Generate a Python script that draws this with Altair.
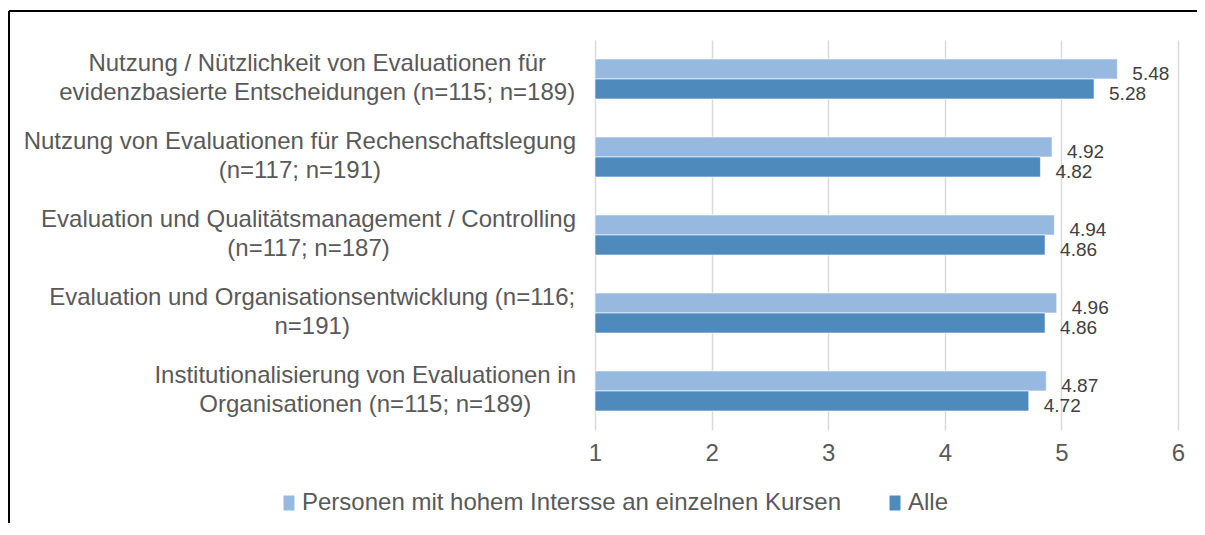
import altair as alt
import pandas as pd

# ---- data ----
kategorie_zeile1 = [
    "Nutzung / Nützlichkeit von Evaluationen für",
    "Nutzung von Evaluationen für Rechenschaftslegung",
    "Evaluation und Qualitätsmanagement / Controlling",
    "Evaluation und Organisationsentwicklung (n=116;",
    "Institutionalisierung von Evaluationen in",
]
kategorie_zeile2 = [
    "evidenzbasierte Entscheidungen (n=115; n=189)",
    "(n=117; n=191)",
    "(n=117; n=187)",
    "n=191)",
    "Organisationen (n=115; n=189)",
]
gruppen = ["Personen mit hohem Intersse an einzelnen Kursen", "Alle"]
werte_interesse = [5.48, 4.92, 4.94, 4.96, 4.87]
werte_alle = [5.28, 4.82, 4.86, 4.86, 4.72]
x_ticks = [1, 2, 3, 4, 5, 6]
farben = ["#97B9E0", "#4F8ABD"]

FONT = "Liberation Sans"
FS_CAT = 24
W, H = 583, 390
X_MIN, X_MAX = 1, 6

# approximate Arial / Liberation Sans advance widths (per 1000 em)
_w = {}
for c in "abdeghnopqu0123456789äüö":
    _w[c] = 556
for c in "cksvxyz":
    _w[c] = 500
for c in "ijl":
    _w[c] = 222
for c in "ft/;. ":
    _w[c] = 278
_w.update({"r": 333, "m": 833, "w": 722, "(": 333, ")": 333, "=": 584,
           "A": 667, "B": 667, "C": 722, "D": 722, "E": 667, "F": 611, "G": 778,
           "H": 722, "I": 278, "J": 500, "K": 667, "L": 556, "M": 833, "N": 722,
           "O": 778, "P": 667, "Q": 778, "R": 722, "S": 667, "T": 611, "U": 722,
           "V": 667, "W": 944, "X": 667, "Y": 667, "Z": 611})


def text_width(s, size):
    return sum(_w.get(ch, 556) for ch in s) / 1000 * size


kategorien = [a + "\n" + b for a, b in zip(kategorie_zeile1, kategorie_zeile2)]

rows = []
for k, v1, v2 in zip(kategorien, werte_interesse, werte_alle):
    rows.append({"Kategorie": k, "Gruppe": gruppen[0], "Wert": v1})
    rows.append({"Kategorie": k, "Gruppe": gruppen[1], "Wert": v2})
df = pd.DataFrame(rows)

# label block: right edge 19px left of the plot, lines centred within the block
px_per_unit = W / (X_MAX - X_MIN)
cat_df = pd.DataFrame({
    "Kategorie": kategorien,
    "lx": [X_MIN + (-19 - max(text_width(a, FS_CAT), text_width(b, FS_CAT)) / 2) / px_per_unit
           for a, b in zip(kategorie_zeile1, kategorie_zeile2)],
})

y_enc = alt.Y("Kategorie:N", sort=kategorien, axis=None,
              scale=alt.Scale(paddingInner=0.487, paddingOuter=0.2435))
yoff_enc = alt.YOffset("Gruppe:N", sort=gruppen, scale=alt.Scale(paddingInner=0, paddingOuter=0))
x_scale = alt.Scale(domain=[X_MIN, X_MAX], nice=False, zero=False)

bars = alt.Chart(df).mark_bar(stroke="white", strokeWidth=0.6).encode(
    y=y_enc,
    yOffset=yoff_enc,
    x=alt.X("Wert:Q", scale=x_scale,
            axis=alt.Axis(values=x_ticks, format="d", title=None, grid=True,
                          gridColor="#D9D9D9", gridWidth=1.5, domain=False, ticks=False,
                          labelFont=FONT, labelFontSize=24, labelColor="#595959",
                          labelPadding=11, labelFlush=False)),
    x2=alt.datum(X_MIN),
    color=alt.Color("Gruppe:N", sort=gruppen,
                    scale=alt.Scale(domain=gruppen, range=farben),
                    legend=alt.Legend(orient="none", legendX=-318, legendY=451,
                                      direction="horizontal", title=None, padding=0,
                                      labelFont=FONT, labelFontSize=24,
                                      labelColor="#595959", labelLimit=0,
                                      symbolType="M-0.73,-1H0.73V1H-0.73Z",
                                      symbolSize=225, symbolStrokeWidth=0,
                                      labelOffset=1, columnPadding=42)),
)

werte_text = alt.Chart(df).mark_text(align="left", baseline="middle", dx=15, dy=5,
                                     font=FONT, fontSize=19, color="#404040").encode(
    y=y_enc,
    yOffset=yoff_enc,
    x=alt.X("Wert:Q"),
    text=alt.Text("Wert:Q", format=".2f"),
)

kat_text = alt.Chart(cat_df).mark_text(align="center", baseline="middle", lineBreak="\n",
                                       lineHeight=29, dy=-15.5, font=FONT,
                                       fontSize=FS_CAT, color="#595959").encode(
    y=y_enc,
    x=alt.X("lx:Q"),
    text="Kategorie:N",
)

one = pd.DataFrame({"k": [0]})
frame_top = alt.Chart(one).mark_rule(color="black", strokeWidth=2).encode(
    x=alt.value(-586), x2=alt.value(W + 19), y=alt.value(-29))
frame_left = alt.Chart(one).mark_rule(color="black", strokeWidth=2).encode(
    x=alt.value(-586), y=alt.value(-29), y2=alt.value(H + 110))

chart = alt.layer(bars, werte_text, kat_text, frame_top, frame_left).properties(
    width=W, height=H,
    background="white",
    autosize=alt.AutoSizeParams(type="none"),
    padding={"left": 587, "top": 32, "right": 19, "bottom": 93},
).configure_view(strokeWidth=0, stroke="transparent")

chart.save("out.html", embed_options={"renderer": "svg", "actions": False})
